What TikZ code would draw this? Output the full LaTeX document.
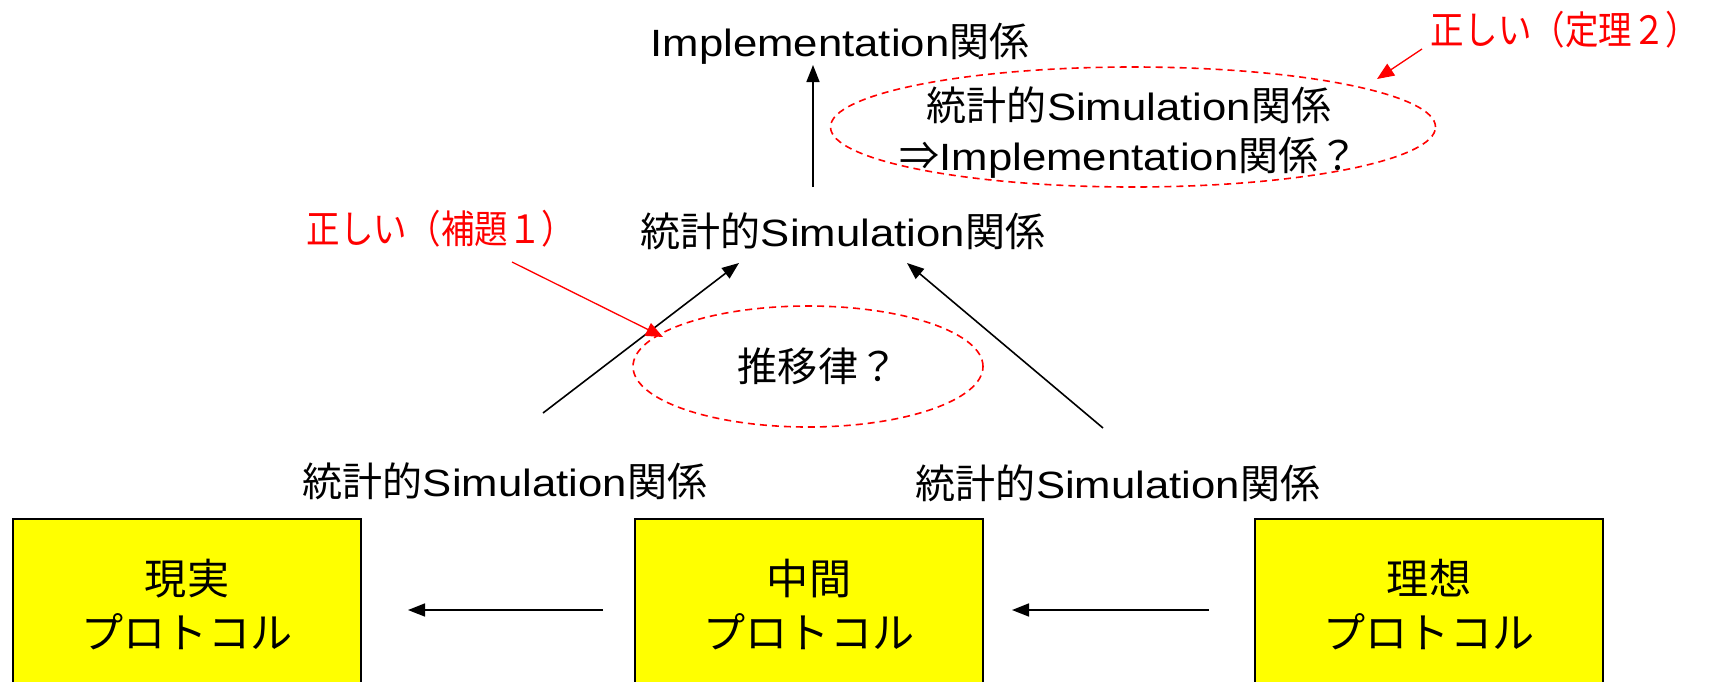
\documentclass[tikz,border=0pt]{standalone}
\usepackage{fontspec}
\setmainfont{Liberation Sans}[FakeStretch=1.15]
\newfontfamily\jpfont{Noto Sans CJK JP}[Scale=1.053]
\newfontfamily\jpnarrow{Noto Sans CJK JP}[Scale=1.053, FakeStretch=0.86]
\newcommand\J[1]{{\jpfont #1}}
\usetikzlibrary{arrows.meta,shapes.geometric}
\definecolor{boxyellow}{RGB}{255,255,0}
\definecolor{notered}{RGB}{255,0,0}

\begin{document}
\begin{tikzpicture}[x=1pt,y=-1pt,
  lbl/.style={font=\fontsize{38}{50}\selectfont, inner sep=0pt, align=center},
  redlbl/.style={font=\jpnarrow\fontsize{37}{44}\selectfont, text=notered, inner sep=0pt},
  protobox/.style={draw=black, line width=2pt, fill=boxyellow, minimum width=348pt,
    minimum height=172pt, align=center, font=\jpfont\fontsize{40}{54}\selectfont, inner sep=0pt},
  dashell/.style={ellipse, draw=notered, dash pattern=on 7pt off 5pt, line width=1.6pt, inner sep=0pt},
  blkarrow/.style={draw=black, line width=1.6pt, -{Triangle[length=17pt,width=13pt]}},
  redarrow/.style={draw=notered, line width=1.3pt, -{Triangle[length=17pt,width=14pt]}}]

\useasboundingbox (0,0) rectangle (1713,681);
\clip (0,0) rectangle (1713,681);

% protocol boxes (their lower part runs off the page)
\node[protobox] (real)  at (187,605)  {現実\\プロトコル};
\node[protobox] (inter) at (809,605)  {中間\\プロトコル};
\node[protobox] (ideal) at (1429,605) {理想\\プロトコル};

\draw[blkarrow, shorten <=31pt, shorten >=46pt] ([yshift=-5pt]inter.west) -- ([yshift=-5pt]real.east);
\draw[blkarrow, shorten <=45pt, shorten >=28pt] ([yshift=-5pt]ideal.west) -- ([yshift=-5pt]inter.east);

% relation labels
\node[lbl] (implT)  at (840,44)   {Implementation\J{関係}};
\node[lbl] (simMid) at (843,231)  {\J{統計的}Simulation\J{関係}};
\node[lbl] (simL)   at (505,481)  {\J{統計的}Simulation\J{関係}};
\node[lbl] (simR)   at (1118,483) {\J{統計的}Simulation\J{関係}};

% dashed ellipses with their questions
\node[dashell, minimum width=350pt, minimum height=121pt] (transE) at (808,366.5) {};
\node[lbl] (transT) at (818,366) {\J{推移律？}};
\node[dashell, minimum width=605pt, minimum height=120pt] (thmE) at (1133,127) {};
\node[lbl] (thmT) at (1129,133) {\J{統計的}Simulation\J{関係}\\\J{⇒}Implementation\J{関係？}};

% red annotations
\node[redlbl] (lemma) at (441,229)  {正しい（補題１）};
\node[redlbl] (thm)   at (1565,30)  {正しい（定理２）};

% arrow end points
\coordinate (vTail)  at (813,187);
\coordinate (vTip)   at (813,65);
\coordinate (lTail)  at (543,413);
\coordinate (lTip)   at (739,263);
\coordinate (rTail)  at (1103,428);
\coordinate (rTip)   at (907,263);
\coordinate (r1Tail) at (512,262);
\coordinate (r1Tip)  at (663,337);
\coordinate (r2Tail) at (1422,49);
\coordinate (r2Tip)  at (1377,79);

\draw[blkarrow] (vTail) -- (vTip);
\draw[blkarrow] (lTail) -- (lTip);
\draw[blkarrow] (rTail) -- (rTip);
\draw[redarrow] (r1Tail) -- (r1Tip);
\draw[redarrow] (r2Tail) -- (r2Tip);
\end{tikzpicture}
\end{document}
